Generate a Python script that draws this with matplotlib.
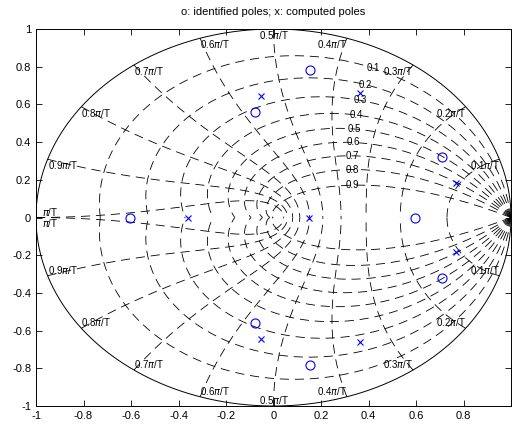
import numpy as np
import matplotlib
matplotlib.use("Agg")
import matplotlib.pyplot as plt

plt.rcParams['font.family'] = ['Liberation Sans', 'DejaVu Sans']

# identified poles (o) and computed poles (x)
ident_re = [0.155, -0.08, 0.71, -0.605, 0.595, 0.71, -0.08, 0.155]
ident_im = [0.785, 0.56, 0.323, 0.0, 0.0, -0.323, -0.56, -0.785]
comp_re = [-0.053, 0.363, 0.767, -0.361, 0.151, 0.767, -0.053, 0.363]
comp_im = [0.643, 0.663, 0.181, 0.0, 0.0, -0.181, -0.643, -0.663]

# zgrid settings
zetas = [0.1, 0.2, 0.3, 0.4, 0.5, 0.6, 0.7, 0.8, 0.9]
wn_frac = [0.1, 0.2, 0.3, 0.4, 0.5, 0.6, 0.7, 0.8, 0.9, 1.0]
ticks = [-1, -0.8, -0.6, -0.4, -0.2, 0, 0.2, 0.4, 0.6, 0.8, 1]

fig = plt.figure(figsize=(5.12, 4.28), dpi=100)
ax = fig.add_axes([36 / 512, 22 / 428, 475 / 512, 377 / 428])

gk = dict(color='k', lw=0.6, dashes=(11, 7))

# unit circle
t = np.linspace(0, 2 * np.pi, 400)
ax.plot(np.cos(t), np.sin(t), color='k', lw=0.7)

# constant damping curves
th = np.linspace(0, np.pi, 200)
for z in zetas:
    m = z / np.sqrt(1 - z ** 2)
    zz = np.exp(th * (-m + 1j))
    ax.plot(zz.real, zz.imag, **gk)
    ax.plot(zz.real, -zz.imag, **gk)
    w = 1.09
    p = np.exp(w * (-z + 1j * np.sqrt(1 - z ** 2)))
    ax.text(p.real, p.imag, str(z), fontsize=7, ha='center', va='center')

# constant natural frequency curves
zt = np.linspace(0, 1, 200)
for f in wn_frac:
    w = f * np.pi
    zz = np.exp(w * (-zt + 1j * np.sqrt(1 - zt ** 2)))
    ax.plot(zz.real, zz.imag, **gk)
    ax.plot(zz.real, -zz.imag, **gk)
    lab = (r'$\pi$/T' if f == 1.0 else '%g' % f + r'$\pi$/T')
    if f < 0.5:
        ha = 'right'
    elif f == 0.5:
        ha = 'center'
    else:
        ha = 'left'
    x0, y0 = np.cos(w), np.sin(w)
    if f == 1.0:
        x0 = -0.975
    ax.text(x0, y0, lab, fontsize=7, ha=ha, va='top')
    ax.text(x0, -y0, lab, fontsize=7, ha=ha, va='bottom')

ax.plot(ident_re, ident_im, 'o', color='b', mfc='none', ms=6.5, mew=0.8)
ax.plot(comp_re, comp_im, 'x', color='b', ms=4.5, mew=0.8)

ax.set_xlim(-1, 1)
ax.set_ylim(-1, 1)
ax.set_xticks(ticks)
ax.set_yticks(ticks)
ax.set_xticklabels(['%g' % v for v in ticks[:-1]] + [''])
ax.set_yticklabels(['%g' % v for v in ticks])
ax.tick_params(direction='in', top=True, right=True, length=4, labelsize=8, width=0.6)
for s in ax.spines.values():
    s.set_linewidth(0.7)
ax.set_title('o: identified poles; x: computed poles', fontsize=8, pad=10)

fig.savefig('out.png', dpi=100)
